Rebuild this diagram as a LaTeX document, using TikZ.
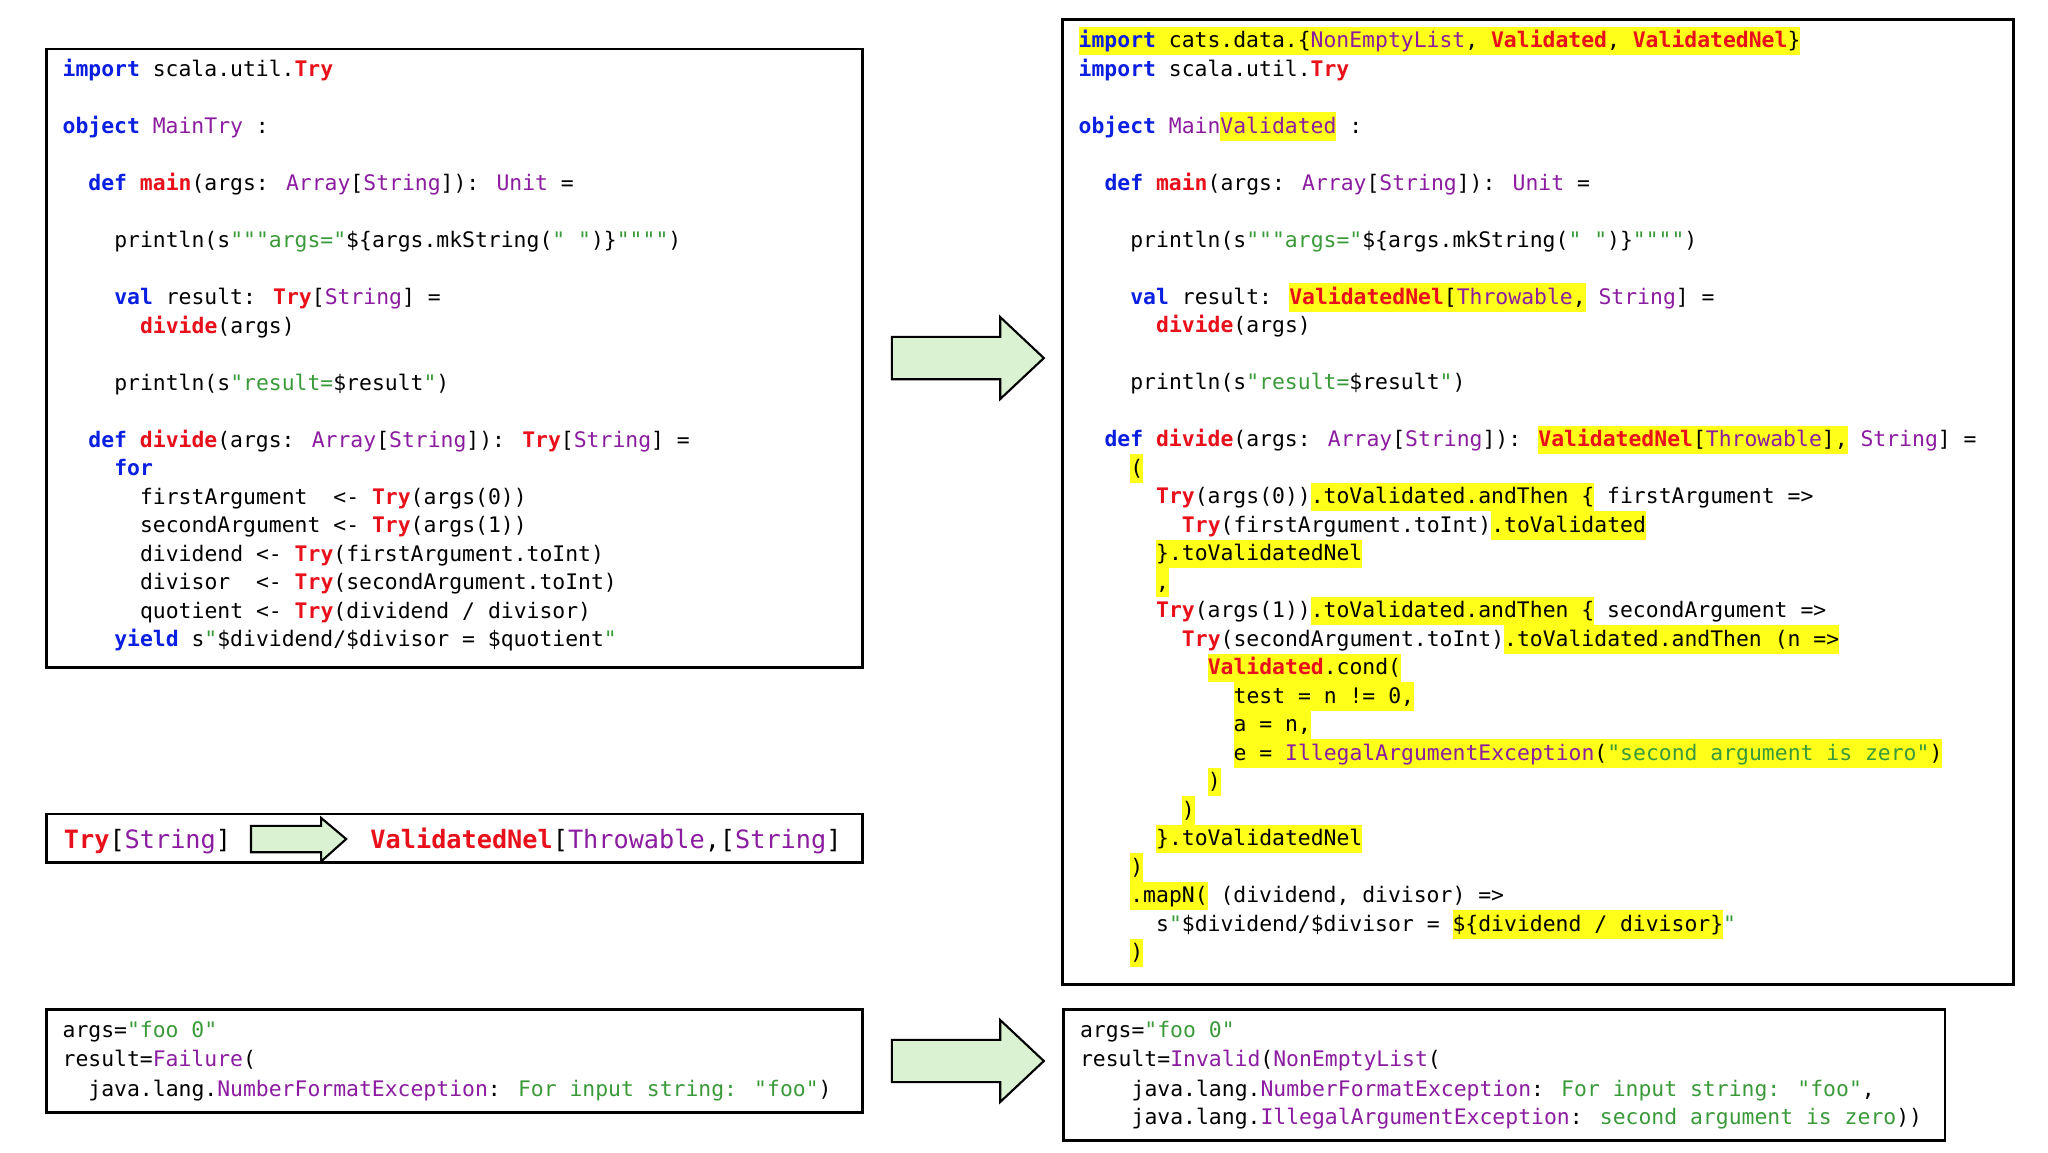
\documentclass[tikz,border=0pt]{standalone}
\usepackage{fontspec}
\newfontfamily\codefont{DejaVu Sans Mono}
\definecolor{kw}{HTML}{0A1FE0}
\definecolor{ty}{HTML}{8B1CA0}
\definecolor{rd}{HTML}{E8101A}
\definecolor{st}{HTML}{3A9A3A}
\definecolor{hy}{HTML}{FFFF1A}
\definecolor{ag}{HTML}{DAF2D2}
\newcommand\K[1]{\textcolor{kw}{\bfseries #1}}
\newcommand\T[1]{\textcolor{ty}{#1}}
\newcommand\R[1]{\textcolor{rd}{\bfseries #1}}
\newcommand\Sg[1]{\textcolor{st}{#1}}
\newcommand\Hl[1]{{\setlength\fboxsep{0pt}\colorbox{hy}{\rule[-2.9pt]{0pt}{10.8pt}#1}}}
\newcounter{ln}
\newcommand\codeline[5]{\stepcounter{ln}\node[code] (ln\theln) at ({#1+#3*9.77},{#2+#4*21.57+5}) {#5};}
\begin{document}
\begin{tikzpicture}[x=0.5pt,y=-0.5pt,
  code/.style={anchor=base west,inner sep=0pt,font=\codefont\fontsize{8.1}{10.8}\selectfont},
  big/.style={anchor=base west,inner sep=0pt,font=\codefont\fontsize{9.55}{11}\selectfont},
  box/.style={draw,line width=1pt},
  arr/.style={draw,fill=ag,line width=0.8pt,line join=miter}]
\useasboundingbox (0,0) rectangle (1550,871.9);
% boxes
\draw[box] (35,37) rectangle (653,505);
\draw[box] (804,15) rectangle (1524,745);
\draw[box] (35,616) rectangle (653,653);
\draw[box] (35,764) rectangle (653,842);
\draw[box] (805,764) rectangle (1472,863);
% arrows
\draw[arr] (675,255) -- (757,255) -- (757,240) -- (790,271) -- (757,302) -- (757,287) -- (675,287) -- cycle;
\draw[arr] (675,787) -- (757,787) -- (757,772) -- (790,803) -- (757,834) -- (757,819) -- (675,819) -- cycle;
\draw[arr] (190,625) -- (243,625) -- (243,619) -- (262,635) -- (243,652) -- (243,645) -- (190,645) -- cycle;
% left code
\codeline{47}{53}{0}{0}{\K{import} scala.util.\R{Try}}
\codeline{47}{53}{0}{2}{\K{object} \T{MainTry} :}
\codeline{47}{53}{2}{4}{\K{def} \R{main}(args: \T{Array}[\T{String}]): \T{Unit} =}
\codeline{47}{53}{4}{6}{println(s\Sg{"""args="}\$\{args.mkString(\Sg{" "})\}\Sg{""""})}
\codeline{47}{53}{4}{8}{\K{val} result: \R{Try}[\T{String}] =}
\codeline{47}{53}{6}{9}{\R{divide}(args)}
\codeline{47}{53}{4}{11}{println(s\Sg{"result=}\$result\Sg{"})}
\codeline{47}{53}{2}{13}{\K{def} \R{divide}(args: \T{Array}[\T{String}]): \R{Try}[\T{String}] =}
\codeline{47}{53}{4}{14}{\K{for}}
\codeline{47}{53}{6}{15}{firstArgument\ \ <- \R{Try}(args(0))}
\codeline{47}{53}{6}{16}{secondArgument <- \R{Try}(args(1))}
\codeline{47}{53}{6}{17}{dividend <- \R{Try}(firstArgument.toInt)}
\codeline{47}{53}{6}{18}{divisor\ \ <- \R{Try}(secondArgument.toInt)}
\codeline{47}{53}{6}{19}{quotient <- \R{Try}(dividend / divisor)}
\codeline{47}{53}{4}{20}{\K{yield} s\Sg{"}\$dividend/\$divisor = \$quotient\Sg{"}}
% right code
\codeline{816}{31}{0}{0}{\Hl{\K{import} cats.data.\{\T{NonEmptyList}, \R{Validated}, \R{ValidatedNel}\}}}
\codeline{816}{31}{0}{1}{\K{import} scala.util.\R{Try}}
\codeline{816}{31}{0}{3}{\K{object} \T{Main}\Hl{\T{Validated}} :}
\codeline{816}{31}{2}{5}{\K{def} \R{main}(args: \T{Array}[\T{String}]): \T{Unit} =}
\codeline{816}{31}{4}{7}{println(s\Sg{"""args="}\$\{args.mkString(\Sg{" "})\}\Sg{""""})}
\codeline{816}{31}{4}{9}{\K{val} result: \Hl{\R{ValidatedNel}[\T{Throwable},}\ \T{String}] =}
\codeline{816}{31}{6}{10}{\R{divide}(args)}
\codeline{816}{31}{4}{12}{println(s\Sg{"result=}\$result\Sg{"})}
\codeline{816}{31}{2}{14}{\K{def} \R{divide}(args: \T{Array}[\T{String}]): \Hl{\R{ValidatedNel}[\T{Throwable}],}\ \T{String}] =}
\codeline{816}{31}{4}{15}{\Hl{(}}
\codeline{816}{31}{6}{16}{\R{Try}(args(0))\Hl{.toValidated.andThen \{} firstArgument =>}
\codeline{816}{31}{8}{17}{\R{Try}(firstArgument.toInt)\Hl{.toValidated}}
\codeline{816}{31}{6}{18}{\Hl{\}.toValidatedNel}}
\codeline{816}{31}{6}{19}{\Hl{,}}
\codeline{816}{31}{6}{20}{\R{Try}(args(1))\Hl{.toValidated.andThen \{} secondArgument =>}
\codeline{816}{31}{8}{21}{\R{Try}(secondArgument.toInt)\Hl{.toValidated.andThen (n =>}}
\codeline{816}{31}{10}{22}{\Hl{\R{Validated}.cond(}}
\codeline{816}{31}{12}{23}{\Hl{test = n != 0,}}
\codeline{816}{31}{12}{24}{\Hl{a = n,}}
\codeline{816}{31}{12}{25}{\Hl{e = \T{IllegalArgumentException}(\Sg{"second argument is zero"})}}
\codeline{816}{31}{10}{26}{\Hl{)}}
\codeline{816}{31}{8}{27}{\Hl{)}}
\codeline{816}{31}{6}{28}{\Hl{\}.toValidatedNel}}
\codeline{816}{31}{4}{29}{\Hl{)}}
\codeline{816}{31}{4}{30}{\Hl{.mapN(} (dividend, divisor) =>}
\codeline{816}{31}{6}{31}{s\Sg{"}\$dividend/\$divisor = \Hl{\$\{dividend / divisor\}}\Sg{"}}
\codeline{816}{31}{4}{32}{\Hl{)}}
% middle
\node[big] (mid1) at (48,642) {\R{Try}[\T{String}]};
\node[big] (mid2) at (280,642) {\R{ValidatedNel}[\T{Throwable},[\T{String}]};
% bottom left
\codeline{47}{780}{0}{0}{args=\Sg{"foo 0"}}
\codeline{47}{780}{0}{1.04}{result=\T{Failure}(}
\codeline{47}{780}{2}{2.09}{java.lang.\T{NumberFormatException}: \Sg{For input string: "foo"})}
% bottom right
\codeline{817}{780}{0}{0}{args=\Sg{"foo 0"}}
\codeline{817}{780}{0}{1.04}{result=\T{Invalid}(\T{NonEmptyList}(}
\codeline{817}{780}{4}{2.09}{java.lang.\T{NumberFormatException}: \Sg{For input string: "foo"},}
\codeline{817}{780}{4}{3.06}{java.lang.\T{IllegalArgumentException}: \Sg{second argument is zero}))}
\end{tikzpicture}
\end{document}
